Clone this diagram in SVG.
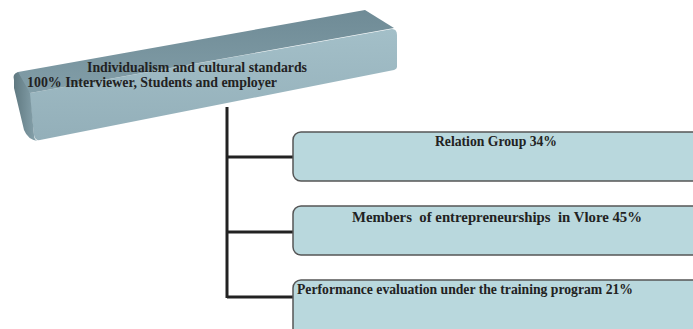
<svg xmlns="http://www.w3.org/2000/svg" width="693" height="329" viewBox="0 0 693 329">
<defs>
<linearGradient id="front" x1="0" y1="0" x2="0" y2="1">
<stop offset="0" stop-color="#a3bfc8"/>
<stop offset="1" stop-color="#93afb9"/>
</linearGradient>
<linearGradient id="bevel" x1="0" y1="0" x2="1" y2="0">
<stop offset="0" stop-color="#5f7880"/>
<stop offset="1" stop-color="#8aa6b0"/>
</linearGradient>
<linearGradient id="top" x1="0" y1="0" x2="0" y2="1">
<stop offset="0" stop-color="#6f8b96"/>
<stop offset="1" stop-color="#829ea8"/>
</linearGradient>
</defs>
<style>
.lbl{font-family:"Liberation Serif",serif;font-weight:bold;font-size:14px;fill:#222}
.box{fill:#b9d8dd;stroke:#555;stroke-width:1.5}
.conn{stroke:#222;stroke-width:3;fill:none}
</style>
<rect width="693" height="329" fill="#fff"/>
<g id="connectors">
<path class="conn" d="M227 107 V298 M227 157 H293 M227 232 H293 M227 297 H293"/>
</g>
<g id="root">
<path d="M30 93 L392 29 Q397 29 397 35 L397 67 Q397 69 394 70 L40 140 Q35 141 34 135 L30 100 Z" fill="url(#front)"/>
<path d="M18 72 L365 10 L394 28 L30 93 Q20 90 14 82 Z" fill="url(#top)"/>
<path d="M14 80 Q12 74 18 72 L30 93 L34 135 Q34 140 38 141 Q28 140 24 130 L14 88 Z" fill="url(#bevel)"/>
<text class="lbl" x="197" y="72" text-anchor="middle" textLength="220" lengthAdjust="spacingAndGlyphs">Individualism and cultural standards</text>
<text class="lbl" x="27" y="87" textLength="250" lengthAdjust="spacingAndGlyphs">100% Interviewer, Students and employer</text>
</g>
<g id="n1">
<rect class="box" x="293" y="132" width="412" height="49" rx="8"/>
<text class="lbl" x="496" y="146" text-anchor="middle" textLength="122" lengthAdjust="spacingAndGlyphs">Relation Group 34%</text>
</g>
<g id="n2">
<rect class="box" x="293" y="206" width="412" height="49" rx="8"/>
<text class="lbl" x="497" y="222" text-anchor="middle" textLength="290" lengthAdjust="spacingAndGlyphs" xml:space="preserve">Members  of entrepreneurships  in Vlore 45%</text>
</g>
<g id="n3">
<rect class="box" x="293" y="280" width="412" height="60" rx="8"/>
<text class="lbl" x="297" y="294" textLength="336" lengthAdjust="spacingAndGlyphs">Performance evaluation under the training program 21%</text>
</g>
</svg>
